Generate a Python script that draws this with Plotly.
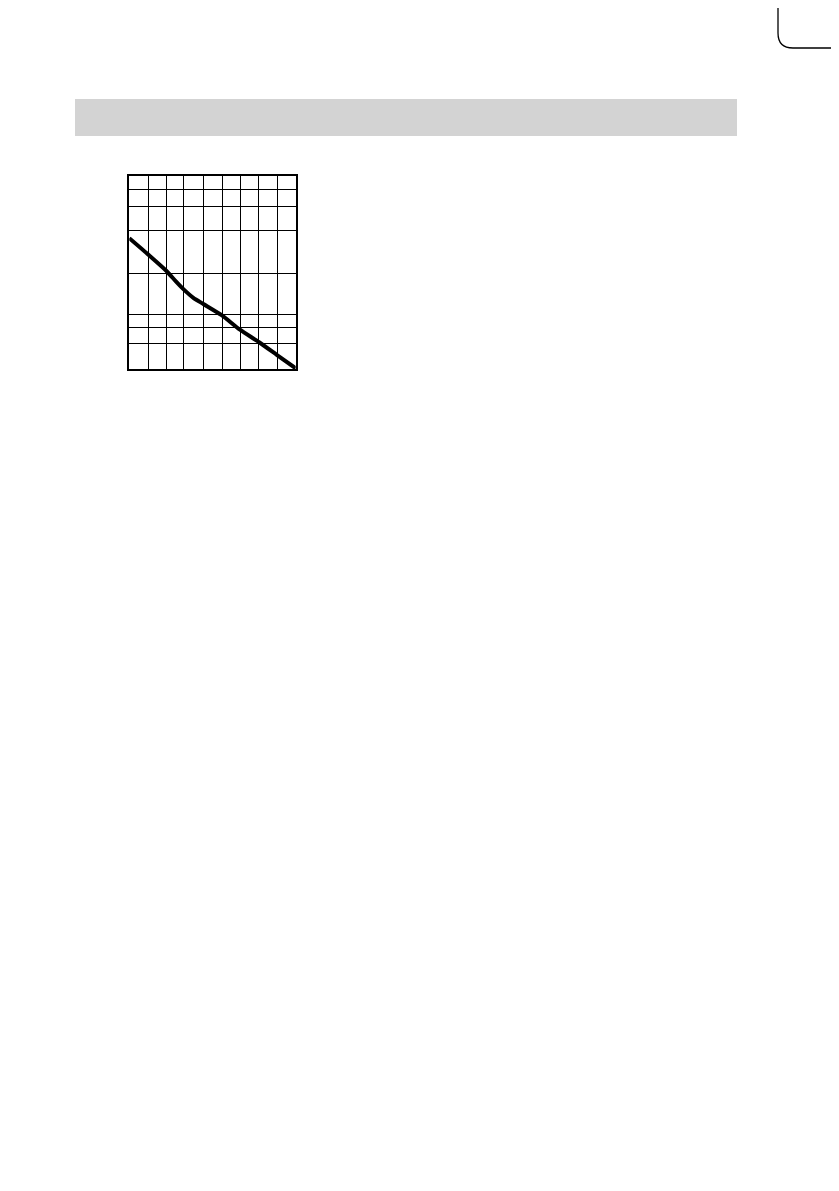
import plotly.graph_objects as go

# curve (arbitrary units, 0-100 on both axes)
curve_x = [0, 11.7, 22.2, 28.0, 32.5, 38.5, 44.5, 55.5, 66.5, 78.0, 88.6, 100]
curve_y = [67.8, 59.1, 51.0, 45.5, 41.5, 37.0, 33.8, 28.0, 20.5, 14.0, 7.5, 0.5]

# grid positions (no labels are printed on the chart)
grid_x = [0, 11.7, 22.2, 32.5, 44.5, 55.9, 66.7, 77.9, 88.9, 100]
grid_y = [0, 13.1, 21.7, 28.5, 49.7, 71.9, 84.1, 93.1, 100]

# page is offset by the body margin of the html page
OFF = 8
W, H = 839 - 2 * OFF, 1191 - 2 * OFF


def px(x):
    return (x - OFF) / W


def py(y):
    return 1 - (y - OFF) / H


fig = go.Figure()
fig.add_trace(go.Scatter(
    x=curve_x, y=curve_y, mode="lines",
    line=dict(color="black", width=4, shape="spline", smoothing=0.6),
    showlegend=False, hoverinfo="skip",
))

axis_style = dict(
    showgrid=True, gridcolor="black", gridwidth=1.3,
    showline=True, linecolor="black", linewidth=1.5, mirror=True,
    zeroline=False, showticklabels=False, ticks="",
    range=[0, 100], tickmode="array", fixedrange=True,
)
fig.update_xaxes(tickvals=grid_x, domain=[px(129.3), px(295.7)], **axis_style)
fig.update_yaxes(tickvals=grid_y, domain=[py(369.3), py(176)], **axis_style)

# grey header band
fig.add_shape(type="rect", xref="paper", yref="paper",
              x0=px(75), x1=px(737), y0=py(136), y1=py(99),
              fillcolor="#d3d3d3", line=dict(width=0), layer="below")

# rounded tab outline in the top right corner
fig.add_shape(type="path", xref="paper", yref="paper",
              path=(f"M {px(778)} {py(-5)} L {px(778)} {py(33)} "
                    f"Q {px(778)} {py(48)} {px(793)} {py(48)} "
                    f"L {px(850)} {py(48)}"),
              line=dict(color="black", width=1.3))

fig.update_layout(
    width=W, height=H,
    margin=dict(l=0, r=0, t=0, b=0),
    paper_bgcolor="white", plot_bgcolor="white",
)

fig.write_html("out.html", config={"displayModeBar": False})
